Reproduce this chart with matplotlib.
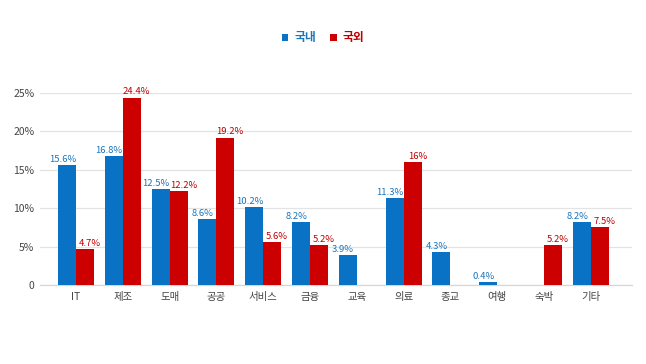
import matplotlib
matplotlib.use("Agg")
import matplotlib.pyplot as plt
import numpy as np

plt.rcParams['font.family'] = ['Noto Sans CJK KR', 'DejaVu Sans']

categories = ["IT", "제조", "도매", "공공", "서비스", "금융", "교육", "의료", "종교", "여행", "숙박", "기타"]
domestic = [15.6, 16.8, 12.5, 8.6, 10.2, 8.2, 3.9, 11.3, 4.3, 0.4, None, 8.2]
foreign = [4.7, 24.4, 12.2, 19.2, 5.6, 5.2, None, 16, None, None, 5.2, 7.5]
dom_labels = ["15.6%", "16.8%", "12.5%", "8.6%", "10.2%", "8.2%", "3.9%", "11.3%", "4.3%", "0.4%", "", "8.2%"]
for_labels = ["4.7%", "24.4%", "12.2%", "19.2%", "5.6%", "5.2%", "", "16%", "", "", "5.2%", "7.5%"]
yticks = [0, 5, 10, 15, 20, 25]
ytick_labels = ["0", "5%", "10%", "15%", "20%", "25%"]
series_names = ["국내", "국외"]

blue = "#0a72c4"
red = "#cc0000"
blue_txt = "#1a75bb"
red_txt = "#c00000"

fig = plt.figure(figsize=(6.46, 3.64), dpi=100)
ax = fig.add_axes([40/646, (364-285)/364, (632-40)/646, (285-93)/364])

x = np.arange(len(categories))
w = 0.385
dx = np.array([xi for xi, v in zip(x, domestic) if v is not None])
dv = [v for v in domestic if v is not None]
fx = np.array([xi for xi, v in zip(x, foreign) if v is not None])
fv = [v for v in foreign if v is not None]

ax.bar(dx - w/2, dv, width=w, color=blue, zorder=3, label=series_names[0])
ax.bar(fx + w/2, fv, width=w, color=red, zorder=3, label=series_names[1])

for xi, v, lab in zip(x, domestic, dom_labels):
    if v is not None:
        ax.text(xi - w/2 - 0.1, v + 0.15, lab, ha='center', va='bottom', fontsize=6.8,
                color=blue_txt, zorder=4, clip_on=False)
for xi, v, lab in zip(x, foreign, for_labels):
    if v is not None:
        ax.text(xi + w/2 + 0.1, v + 0.15, lab, ha='center', va='bottom', fontsize=6.8,
                color=red_txt, zorder=4, clip_on=False)

ax.set_xlim(-0.77, 11.88)
ax.set_ylim(0, 25)
ax.set_yticks(yticks)
ax.set_yticklabels(ytick_labels)
ax.set_xticks(x)
ax.set_xticklabels(categories)
ax.tick_params(axis='both', length=0, labelsize=7.5, colors='#444444')
ax.tick_params(axis='x', pad=5)
ax.tick_params(axis='y', pad=4)
ax.grid(axis='y', color='#e3e3e3', linewidth=0.9, zorder=0)
for s in ['top', 'right', 'left']:
    ax.spines[s].set_visible(False)
ax.spines['bottom'].set_color('#d6d6d6')
ax.spines['bottom'].set_linewidth(0.9)

leg = fig.legend(loc='center', bbox_to_anchor=(0.5, 1 - 38/364), ncol=2, frameon=False,
                 handlelength=0.55, handleheight=0.55, handletextpad=0.5, columnspacing=1.2,
                 prop={'size': 8.5, 'weight': 'bold'})
for t, c in zip(leg.get_texts(), [blue_txt, red_txt]):
    t.set_color(c)

fig.savefig("out.png", dpi=100)
